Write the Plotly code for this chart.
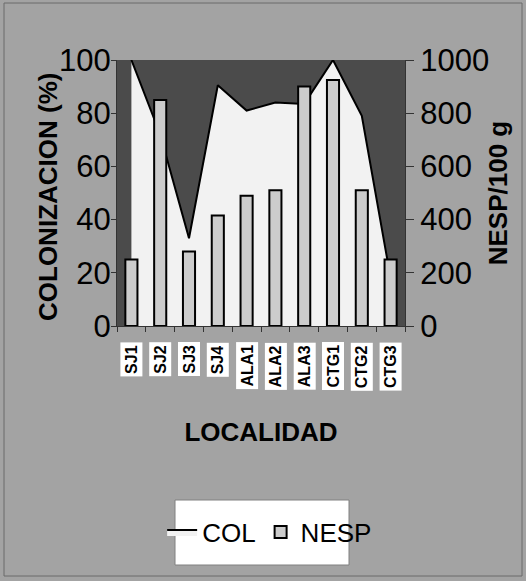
import plotly.graph_objects as go

categories = ["SJ1", "SJ2", "SJ3", "SJ4", "ALA1", "ALA2", "ALA3", "CTG1", "CTG2", "CTG3"]
col_values = [100, 72, 33, 90.5, 81, 84, 83.5, 100, 79, 18]
nesp_values = [250, 850, 280, 415, 490, 510, 900, 925, 510, 250]
left_ticks = [0, 20, 40, 60, 80, 100]
right_ticks = [0, 200, 400, 600, 800, 1000]

FONT = "Liberation Sans, Arial, sans-serif"
W, H = 526, 581
L, R, T, B = 117, 121, 60, 255
PW, PH = W - L - R, H - T - B


def px_x(p):
    return (p - L) / PW


def px_y(p):
    return (H - B - p) / PH


fig = go.Figure()

fig.add_trace(go.Scatter(
    x=categories, y=col_values, name="COL", mode="lines",
    fill="tozeroy", fillcolor="#f2f2f2",
    line=dict(color="black", width=2), yaxis="y",
))
fig.add_trace(go.Bar(
    x=categories, y=nesp_values, name="NESP", yaxis="y2",
    marker=dict(color="#cccccc", line=dict(color="black", width=2)),
    width=0.42,
))

annotations = []
for c in categories:
    annotations.append(dict(
        x=c, xref="x", y=px_y(342), yref="paper", text="<b>" + c + "</b>", showarrow=False,
        textangle=-90, xanchor="center", yanchor="top",
        bgcolor="white", borderpad=2,
        font=dict(family=FONT, size=16, color="black"),
    ))
annotations.append(dict(
    x=px_x(48), xref="paper", y=px_y(197), yref="paper",
    text="<b>COLONIZACION (%)</b>", showarrow=False, textangle=-90,
    xanchor="center", yanchor="middle",
    font=dict(family=FONT, size=26, color="black"),
))

shapes = [
    dict(type="rect", xref="paper", yref="paper",
         x0=px_x(175), x1=px_x(349), y0=px_y(565), y1=px_y(500),
         fillcolor="white", line=dict(color="#808080", width=1), layer="below"),
    dict(type="rect", xref="paper", yref="paper",
         x0=px_x(4), x1=px_x(522), y0=px_y(576), y1=px_y(3),
         fillcolor="rgba(0,0,0,0)", line=dict(color="#6a6a6a", width=1), layer="below"),
]

fig.update_layout(
    width=W, height=H,
    margin=dict(l=L, r=R, t=T, b=B, autoexpand=False),
    paper_bgcolor="#a3a3a3", plot_bgcolor="#4b4b4b",
    font=dict(family=FONT, color="black"),
    showlegend=True,
    barmode="overlay",
    legend=dict(
        orientation="h", x=0.53, xanchor="center", y=px_y(532), yanchor="middle",
        bgcolor="rgba(0,0,0,0)", font=dict(family=FONT, size=26, color="black"),
        itemwidth=30, traceorder="normal",
    ),
    xaxis=dict(
        type="category", range=[-0.5, 9.5], showticklabels=False,
        ticks="outside", tickson="boundaries", ticklen=5, tickcolor="#333333",
        showline=True, linecolor="#333333", linewidth=1, showgrid=False,
        title=dict(text="<b>LOCALIDAD</b>", standoff=96,
                   font=dict(family=FONT, size=26, color="black")),
    ),
    yaxis=dict(
        range=[0, 100], tickvals=left_ticks, ticks="outside", ticklen=5,
        tickcolor="#333333", showgrid=False, zeroline=False,
        showline=True, linecolor="#333333", ticklabelstandoff=-6,
        tickfont=dict(family=FONT, size=31, color="black"),
    ),
    yaxis2=dict(
        range=[0, 1000], tickvals=right_ticks, overlaying="y", side="right",
        ticks="outside", ticklen=8, tickcolor="#333333", showgrid=False,
        zeroline=False, showline=True, linecolor="#333333",
        tickfont=dict(family=FONT, size=31, color="black"),
        title=dict(text="<b>NESP/100 g</b>", standoff=0,
                   font=dict(family=FONT, size=26, color="black")),
    ),
    annotations=annotations,
    shapes=shapes,
)

fig.write_html(
    "out.html",
    config={"displayModeBar": False},
    post_script="document.body.style.margin='0';document.body.style.background='#a3a3a3';",
)
